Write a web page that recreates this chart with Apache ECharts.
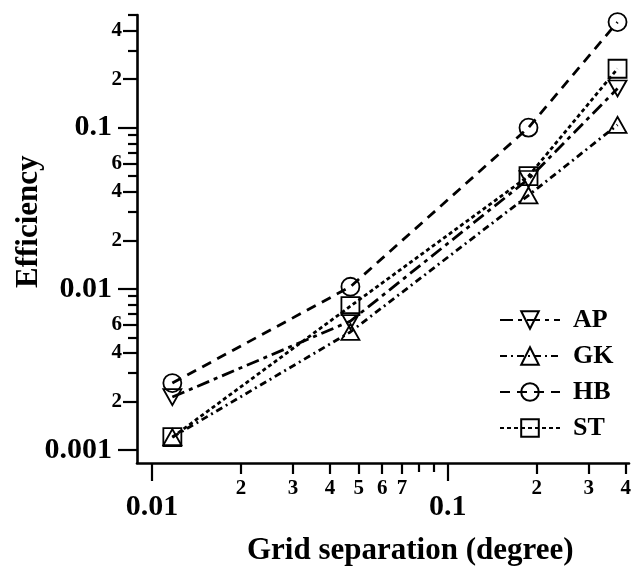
<!DOCTYPE html>
<html>
<head>
<meta charset="utf-8">
<script src="https://cdn.jsdelivr.net/npm/echarts@6/dist/echarts.min.js"></script>
<style>html,body{margin:0;padding:0;background:#fff;}#c{width:636px;height:570px;}</style>
</head>
<body>
<div id="c"></div>
<script>
// Data
const xValues = [0.01171875, 0.046875, 0.1875, 0.375];
const apValues = [0.00213, 0.0063, 0.048, 0.175];
const gkValues = [0.0012, 0.0054, 0.038, 0.104];
const hbValues = [0.0026, 0.0103, 0.100, 0.452];
const stValues = [0.0012, 0.0078, 0.050, 0.232];
const seriesNames = ['AP', 'GK', 'HB', 'ST'];

// Ticks
const xMajorTicks = [0.01, 0.1];
const xMajorLabels = ['0.01', '0.1'];
const xMinorLabeledTicks = [0.02, 0.03, 0.04, 0.05, 0.06, 0.07, 0.2, 0.3, 0.4];
const xMinorLabels = ['2', '3', '4', '5', '6', '7', '2', '3', '4'];
const xMinorTicks = [0.08, 0.09];
const yMajorTicks = [0.001, 0.01, 0.1];
const yMajorLabels = ['0.001', '0.01', '0.1'];
const yMinorLabeledTicks = [0.002, 0.004, 0.006, 0.02, 0.04, 0.06, 0.2, 0.4];
const yMinorLabels = ['2', '4', '6', '2', '4', '6', '2', '4'];
const yMinorTicks = [0.003, 0.005, 0.007, 0.008, 0.009, 0.03, 0.05, 0.07, 0.08, 0.09, 0.3, 0.5];

const xMin = 0.0089, xMax = 0.41, yMin = 0.00083, yMax = 0.5;
const FONT = '"Liberation Serif", "Times New Roman", serif';

function labelFor(ticks, labels) {
  return function (v) {
    for (let i = 0; i < ticks.length; i++) {
      if (Math.abs(Math.log10(v) - Math.log10(ticks[i])) < 1e-6) return labels[i];
    }
    return '';
  };
}

const lineCol = '#000';
function xAxisDef(ticks, labels, tickLen, fontSize, margin, showLine) {
  return {
    type: 'log', min: xMin, max: xMax, position: 'bottom',
    axisLine: { show: showLine, onZero: false, lineStyle: { color: lineCol, width: 2.6 } },
    axisTick: { show: true, customValues: ticks, length: tickLen, lineStyle: { color: lineCol, width: 2.2 } },
    axisLabel: labels ? { show: true, customValues: ticks, formatter: labelFor(ticks, labels), margin: margin,
      fontSize: fontSize, fontWeight: 'bold', fontFamily: FONT, color: '#000' } : { show: false },
    splitLine: { show: false }, minorTick: { show: false }
  };
}
function yAxisDef(ticks, labels, tickLen, fontSize, margin, showLine) {
  return {
    type: 'log', min: yMin, max: yMax, position: 'left',
    axisLine: { show: showLine, onZero: false, lineStyle: { color: lineCol, width: 2.6 } },
    axisTick: { show: true, customValues: ticks, length: tickLen, lineStyle: { color: lineCol, width: 2.2 } },
    axisLabel: labels ? { show: true, customValues: ticks, formatter: labelFor(ticks, labels), margin: margin,
      fontSize: fontSize, fontWeight: 'bold', fontFamily: FONT, color: '#000' } : { show: false },
    splitLine: { show: false }, minorTick: { show: false }
  };
}

function mk(name, vals, symbol, rotate, size, dash) {
  return {
    name: name, type: 'line', xAxisIndex: 0, yAxisIndex: 0,
    data: xValues.map((x, i) => [x, vals[i]]),
    symbol: symbol, symbolRotate: rotate, symbolSize: size, showSymbol: true,
    itemStyle: { color: 'rgba(255,255,255,0)', borderColor: '#000', borderWidth: 1.8 },
    lineStyle: { color: '#000', width: 2.8, type: dash },
    emphasis: { disabled: true }
  };
}

const chart = echarts.init(document.getElementById('c'), null, { renderer: 'canvas' });
chart.setOption({
  animation: false,
  backgroundColor: '#fff',
  grid: { left: 137, right: 7, top: 15, bottom: 107, containLabel: false },
  xAxis: [
    xAxisDef(xMajorTicks, xMajorLabels, 18, 30, 29, true),
    xAxisDef(xMinorLabeledTicks, xMinorLabels, 11, 21, 15, false),
    xAxisDef(xMinorTicks, null, 9, 20, 10, false)
  ],
  yAxis: [
    yAxisDef(yMajorTicks, yMajorLabels, 19, 30, 25, true),
    yAxisDef(yMinorLabeledTicks, yMinorLabels, 14, 21, 15, false),
    yAxisDef(yMinorTicks, null, 9, 20, 10, false)
  ],
  legend: {
    orient: 'vertical', left: 494, top: 302,
    itemWidth: 60, itemHeight: 22, itemGap: 10,
    data: seriesNames,
    textStyle: { fontSize: 26, fontWeight: 'bold', fontFamily: FONT, color: '#000', padding: [0, 0, 0, 8] }
  },
  graphic: [
    { type: 'text', left: 247, top: 535,
      style: { text: 'Grid separation (degree)', fontSize: 31, fontWeight: 'bold', fontFamily: FONT, fill: '#000' } },
    { type: 'text', x: 13, y: 288, rotation: Math.PI / 2,
      style: { text: 'Efficiency', fontSize: 31, fontWeight: 'bold', fontFamily: FONT, fill: '#000' } }
  ],
  series: [
    mk('AP', apValues, 'triangle', 180, [18, 16], [13, 5, 4, 5]),
    mk('GK', gkValues, 'triangle', 0, [18, 16], [7, 4, 2, 4]),
    mk('HB', hbValues, 'circle', 0, 18, [10, 7]),
    mk('ST', stValues, 'rect', 0, 18, [4, 3])
  ]
});
</script>
</body>
</html>
